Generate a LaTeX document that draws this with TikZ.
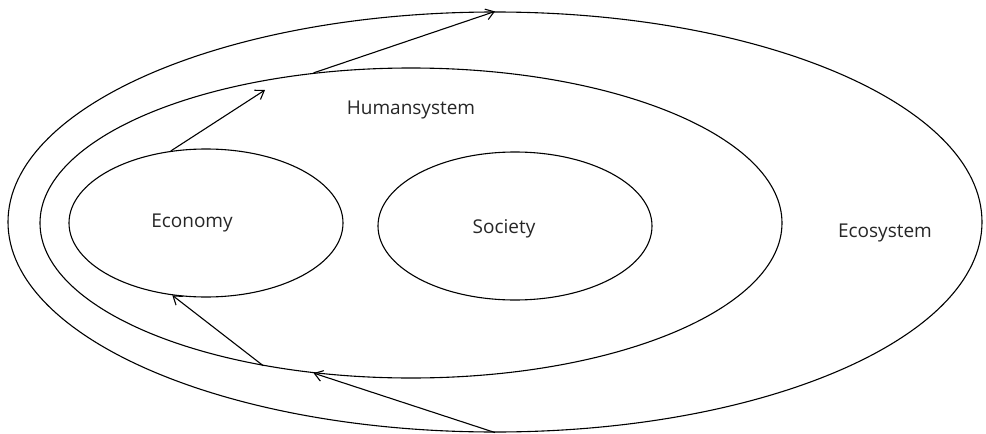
\documentclass[tikz,border=0pt]{standalone}
\usepackage{fontspec}
\setmainfont{Open Sans}
\usetikzlibrary{arrows.meta,shapes.geometric,positioning}

\tikzset{
  ring/.style={draw, ellipse, line width=1.1pt, inner sep=0pt},
  flow/.style={-{Straight Barb[length=8pt,width=11pt]}, line width=1.1pt},
  tag/.style={font=\fontsize{19}{22}\selectfont, text=black!85}
}

\begin{document}
\begin{tikzpicture}[x=1pt, y=-1pt]
    \useasboundingbox (0,0) rectangle (986,434);

    % the three nested systems
    \node[ring, minimum width=974pt, minimum height=420pt] (eco) at (495,222) {};
    \node[ring, minimum width=742pt, minimum height=310pt] (human) at (411,223) {};
    \node[ring, minimum width=274pt, minimum height=148pt] (econ) at (206,223) {};
    \node[ring, minimum width=274pt, minimum height=148pt] (soc) at (515,226) {};

    \node[tag] (humanlbl) at (411,110) {Humansystem};
    \node[tag] (econlbl) at (192,223) {Economy};
    \node[tag] (soclbl) at (504,229) {Society};
    \node[tag] (ecolbl) at (885,233) {Ecosystem};

    % flows
    \coordinate (out1) at (265,90);
    \draw[flow] (econ.116) -- (out1);
    \draw[flow] (human.123.5) -- (eco.north);
    \draw[flow] (human.224) -- (econ.245);
    \draw[flow] (eco.south) -- (human.237);
\end{tikzpicture}
\end{document}
